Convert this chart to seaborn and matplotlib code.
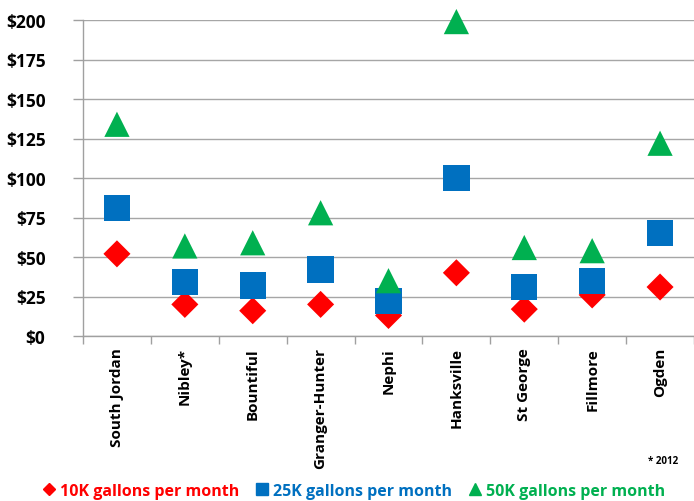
import matplotlib
matplotlib.use("Agg")
import matplotlib.pyplot as plt
import seaborn as sns
import pandas as pd
import numpy as np
from matplotlib.lines import Line2D

cities = ["South Jordan", "Nibley*", "Bountiful", "Granger-Hunter", "Nephi",
          "Hanksville", "St George", "Fillmore", "Ogden"]
gal10k = [52, 20, 16, 20, 13, 40, 17, 26, 31]
gal25k = [81, 34, 32, 42, 22, 100, 31, 35, 65]
gal50k = [134, 57, 59, 78, 35, 199, 56, 54, 122]
series_names = ["10K gallons per month", "25K gallons per month", "50K gallons per month"]
yticks = [0, 25, 50, 75, 100, 125, 150, 175, 200]

colors = ["#FF0000", "#0070C0", "#00B050"]
markers = ["D", "s", "^"]
sizes = [190, 360, 330]

sns.set_theme(style="white")
plt.rcParams['font.family'] = ['Open Sans', 'DejaVu Sans']

fig = plt.figure(figsize=(6.94, 5.02), dpi=100)
ax = fig.add_axes([83/694, 1-337/502, 1-83/694, (337-21)/502])

df = pd.DataFrame({"city": cities, series_names[0]: gal10k,
                   series_names[1]: gal25k, series_names[2]: gal50k})
df["x"] = np.arange(len(cities))

for name, c, m, s in zip(series_names, colors, markers, sizes):
    sns.scatterplot(data=df, x="x", y=name, ax=ax, color=c, marker=m, s=s,
                    edgecolor="none", linewidth=0, clip_on=False, zorder=3)

ax.set_xlim(-0.5, len(cities) - 0.5)
ax.set_ylim(0, 200)
ax.set_yticks(yticks)
ax.set_yticklabels([f"${v}" for v in yticks], fontsize=12.5, fontweight="bold", color="black")
ax.set_xticks(range(len(cities)))
ax.set_xticklabels(cities, rotation=90, fontsize=11, fontweight="bold", color="black")
ax.set_xticks(np.arange(-0.5, len(cities), 1), minor=True)
ax.tick_params(axis="x", which="major", length=0, pad=8)
ax.tick_params(axis="x", which="minor", length=6, color="#A0A0A0", width=1, direction="out", bottom=True)
ax.tick_params(axis="y", length=7, color="#A0A0A0", width=1, direction="out", left=True, pad=20)
ax.set_xlabel("")
ax.set_ylabel("")
ax.grid(axis="y", color="#A6A6A6", linewidth=1)
ax.set_axisbelow(True)
for sp in ["top", "right"]:
    ax.spines[sp].set_visible(False)
for sp in ["left", "bottom"]:
    ax.spines[sp].set_color("#A0A0A0")
    ax.spines[sp].set_linewidth(1)

fig.text(663/694, 1-462/502, "* 2012", fontsize=7, fontweight="bold", ha="center", va="center",
         color="black")

handles = [Line2D([], [], linestyle="none", marker=m, color=c, markersize=ms)
           for m, c, ms in zip(markers, colors, [6, 9, 8])]
leg = fig.legend(handles, series_names, loc="center", bbox_to_anchor=(0.51, 1-492/502),
                 ncol=3, frameon=False, handletextpad=0.3, columnspacing=1.0,
                 handlelength=0.8, prop={"weight": "bold", "size": 11.5})
for t, c in zip(leg.get_texts(), colors):
    t.set_color(c)

fig.savefig("out.png", dpi=100)
